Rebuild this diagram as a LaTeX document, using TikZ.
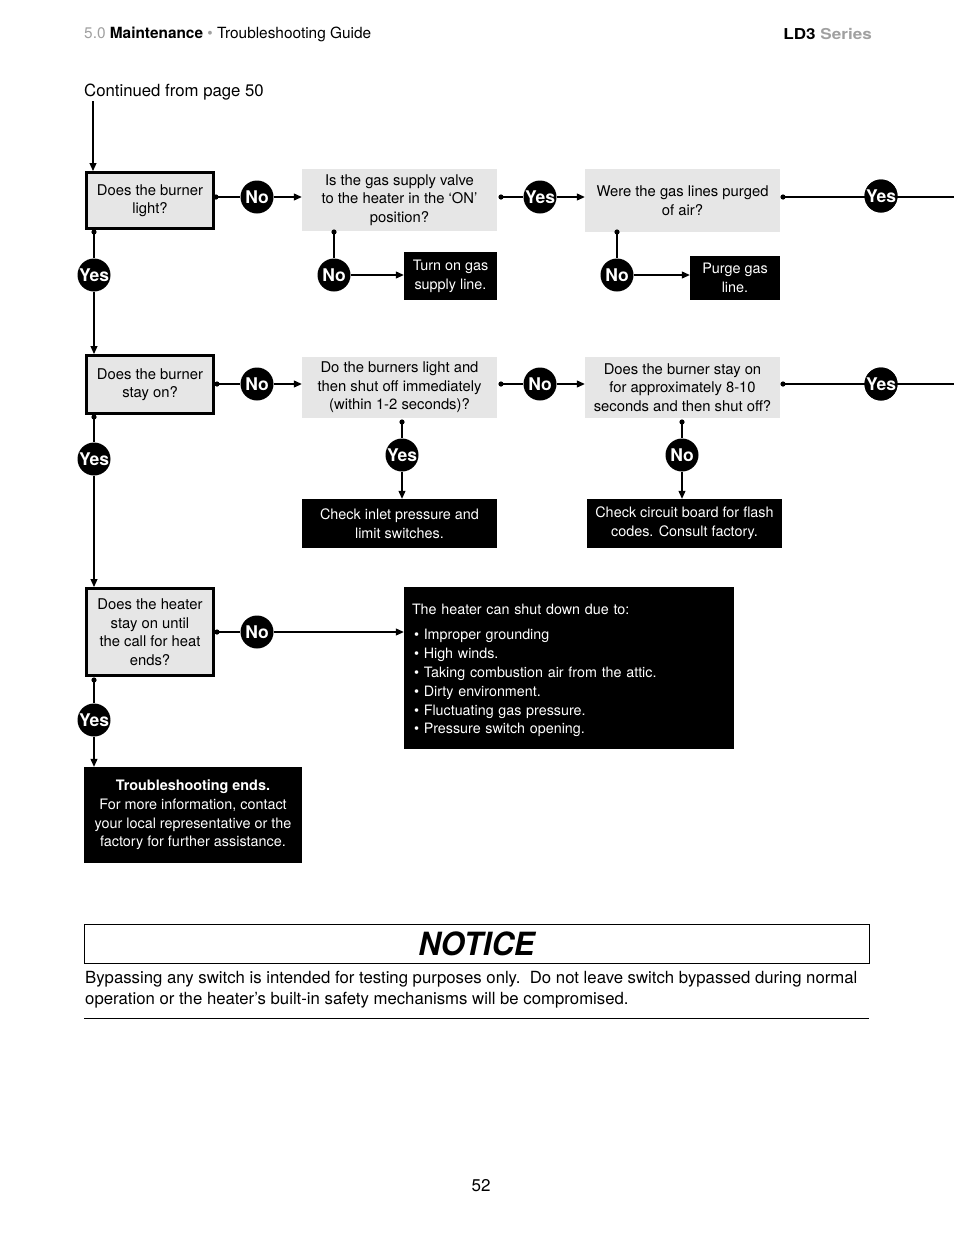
\documentclass[tikz,border=0pt]{standalone}
\usepackage{fontspec}
\setmainfont{TeX Gyre Heros}
\usetikzlibrary{arrows.meta}
\definecolor{boxgray}{HTML}{E6E6E6}
\definecolor{hdrgray}{HTML}{A0A0A0}
\begin{document}
\begin{tikzpicture}[x=1pt,y=-1pt,
  every node/.style={inner sep=0pt, font=\fontsize{14.8}{18.5}\selectfont},
  qbox/.style={draw=black, line width=3pt, fill=boxgray, align=center},
  gbox/.style={fill=boxgray, align=center},
  kbox/.style={fill=black, text=white, align=center, font=\fontsize{14.4}{18.7}\selectfont},
  lab/.style={circle, fill=black, text=white, minimum size=33pt, font=\fontsize{17.5}{17.5}\selectfont\bfseries},
  conn/.style={line width=1.1pt},
  arr/.style={line width=1.1pt, -{Triangle[length=8pt,width=7pt]}},
  dot/.style={fill=black}
]
\useasboundingbox (0,0) rectangle (954,1235);

% header
\node[anchor=west, font=\fontsize{15.4}{17}\selectfont] (hdr) at (84,34) {\textcolor{hdrgray}{5.0} \textbf{Maintenance} \textcolor{hdrgray}{•} Troubleshooting Guide};
\node[anchor=east, font=\fontsize{15}{17}\selectfont\bfseries] (ser) at (872,34) {\scalebox{1.14}[1]{LD3 \textcolor{hdrgray}{Series}}};
\node[anchor=west, font=\fontsize{16.75}{19}\selectfont] (cont) at (84,92) {Continued from page 50};
\coordinate (c0) at (93,101);

% row 1
\node[qbox, minimum width=127pt, minimum height=56pt] (b1) at (150,200.5) {Does the burner\\light?};
\node[gbox, minimum width=195pt, minimum height=62pt] (b2) at (399.5,200) {Is the gas supply valve\\to the heater in the ‘ON’\\position?};
\node[gbox, minimum width=195pt, minimum height=63pt] (b3) at (682.5,200.5) {Were the gas lines purged\\of air?};
\node[kbox, minimum width=93pt, minimum height=48pt] (k1) at (450.5,276) {Turn on gas\\supply line.};
\node[kbox, minimum width=90pt, minimum height=44pt] (k2) at (735,278) {Purge gas\\line.};

% row 2
\node[qbox, minimum width=127pt, minimum height=58pt] (b4) at (150,384.5) {Does the burner\\stay on?};
\node[gbox, minimum width=195pt, minimum height=61pt] (b5) at (399.5,387.5) {Do the burners light and\\then shut off immediately\\(within 1-2 seconds)?};
\node[gbox, minimum width=195pt, minimum height=61pt] (b6) at (682.5,387.5) {Does the burner stay on\\for approximately 8-10\\seconds and then shut off?};
\node[kbox, minimum width=195pt, minimum height=49pt] (k3) at (399.5,523.5) {Check inlet pressure and\\limit switches.};
\node[kbox, minimum width=195pt, minimum height=49pt] (k4) at (684.5,523.5) {Check circuit board for flash\\codes. Consult factory.};

% row 3
\node[qbox, minimum width=127pt, minimum height=87pt] (b7) at (150,632) {Does the heater\\stay on until\\the call for heat\\ends?};
\node[kbox, align=left, text width=314pt, inner xsep=8pt, minimum height=162pt, font=\fontsize{14.3}{18.8}\selectfont] (k5) at (569,668)
 {\rule{0pt}{15pt}The heater can shut down due to:\\[7pt]
  \hspace*{2pt}• Improper grounding\\
  \hspace*{2pt}• High winds.\\
  \hspace*{2pt}• Taking combustion air from the attic.\\
  \hspace*{2pt}• Dirty environment.\\
  \hspace*{2pt}• Fluctuating gas pressure.\\
  \hspace*{2pt}• Pressure switch opening.};
\node[kbox, minimum width=218pt, minimum height=96pt] (k6) at (193,815)
 {\textbf{Troubleshooting ends.}\\For more information, contact\\your local representative or the\\factory for further assistance.};

% labels
\node[lab] (n1) at (257,197) {No};
\node[lab] (y1) at (540,197) {Yes};
\node[lab] (y2) at (881,196) {Yes};
\node[lab] (n2) at (334,275) {No};
\node[lab] (n3) at (617,275) {No};
\node[lab] (y3) at (94,275) {Yes};
\node[lab] (n4) at (257,384) {No};
\node[lab] (n5) at (540,384) {No};
\node[lab] (y4) at (881,384) {Yes};
\node[lab] (y5) at (402,455) {Yes};
\node[lab] (n6) at (682,455) {No};
\node[lab] (y6) at (94,459) {Yes};
\node[lab] (n7) at (257,632) {No};
\node[lab] (y7) at (94,720) {Yes};

% dot coordinates
\coordinate (d1) at (216,197);
\coordinate (d2) at (501,197);
\coordinate (d3) at (783,197);
\coordinate (d4) at (334,232);
\coordinate (d5) at (617,232);
\coordinate (d6) at (94,232);
\coordinate (d7) at (217,384);
\coordinate (d8) at (501,384);
\coordinate (d9) at (783,384);
\coordinate (d10) at (402,422);
\coordinate (d11) at (682,422);
\coordinate (d12) at (94,417);
\coordinate (d13) at (217,632);
\coordinate (d14) at (94,680);
\coordinate (e1) at (954,197);
\coordinate (e2) at (954,384);

% connectors
\draw[arr] (c0) -- (c0 |- b1.north);
\draw[conn] (d1) -- (n1); \draw[arr] (n1) -- (n1 -| b2.west);
\draw[conn] (d2) -- (y1); \draw[arr] (y1) -- (y1 -| b3.west);
\draw[conn] (d3) -- (e1);
\draw[conn] (d4) -- (n2); \draw[arr] (n2) -- (n2 -| k1.west);
\draw[conn] (d5) -- (n3); \draw[arr] (n3) -- (n3 -| k2.west);
\draw[conn] (d6) -- (y3); \draw[arr] (y3) -- (y3 |- b4.north);
\draw[conn] (d7) -- (n4); \draw[arr] (n4) -- (n4 -| b5.west);
\draw[conn] (d8) -- (n5); \draw[arr] (n5) -- (n5 -| b6.west);
\draw[conn] (d9) -- (e2);
\draw[conn] (d10) -- (y5); \draw[arr] (y5) -- (y5 |- k3.north);
\draw[conn] (d11) -- (n6); \draw[arr] (n6) -- (n6 |- k4.north);
\draw[conn] (d12) -- (y6); \draw[arr] (y6) -- (y6 |- b7.north);
\draw[conn] (d13) -- (n7); \draw[arr] (n7) -- (n7 -| k5.west);
\draw[conn] (d14) -- (y7); \draw[arr] (y7) -- (y7 |- k6.north);
% redraw labels on top of the through lines
\node[lab] at (y2) {Yes};
\node[lab] at (y4) {Yes};
\foreach \d in {d1,d2,d3,d4,d5,d6,d7,d8,d9,d10,d11,d12,d13,d14} \fill[dot] (\d) circle (2.6);

% notice
\node[draw=black, line width=1pt, minimum width=785pt, minimum height=39pt] (notice) at (476.5,943.5)
 {\fontsize{32}{34}\selectfont\bfseries\itshape\scalebox{0.97}[1]{NOTICE}};
\node[anchor=north west, align=left, font=\fontsize{16.75}{21}\selectfont] (ntext) at (85,971)
 {Bypassing any switch is intended for testing purposes only.\ \ Do not leave switch bypassed during normal\\operation or the heater’s built-in safety mechanisms will be compromised.};
\draw[line width=0.8pt] (84,1018) -- (869,1018);
\node[font=\fontsize{17}{19}\selectfont] (pg) at (481,1186) {52};
\end{tikzpicture}
\end{document}
